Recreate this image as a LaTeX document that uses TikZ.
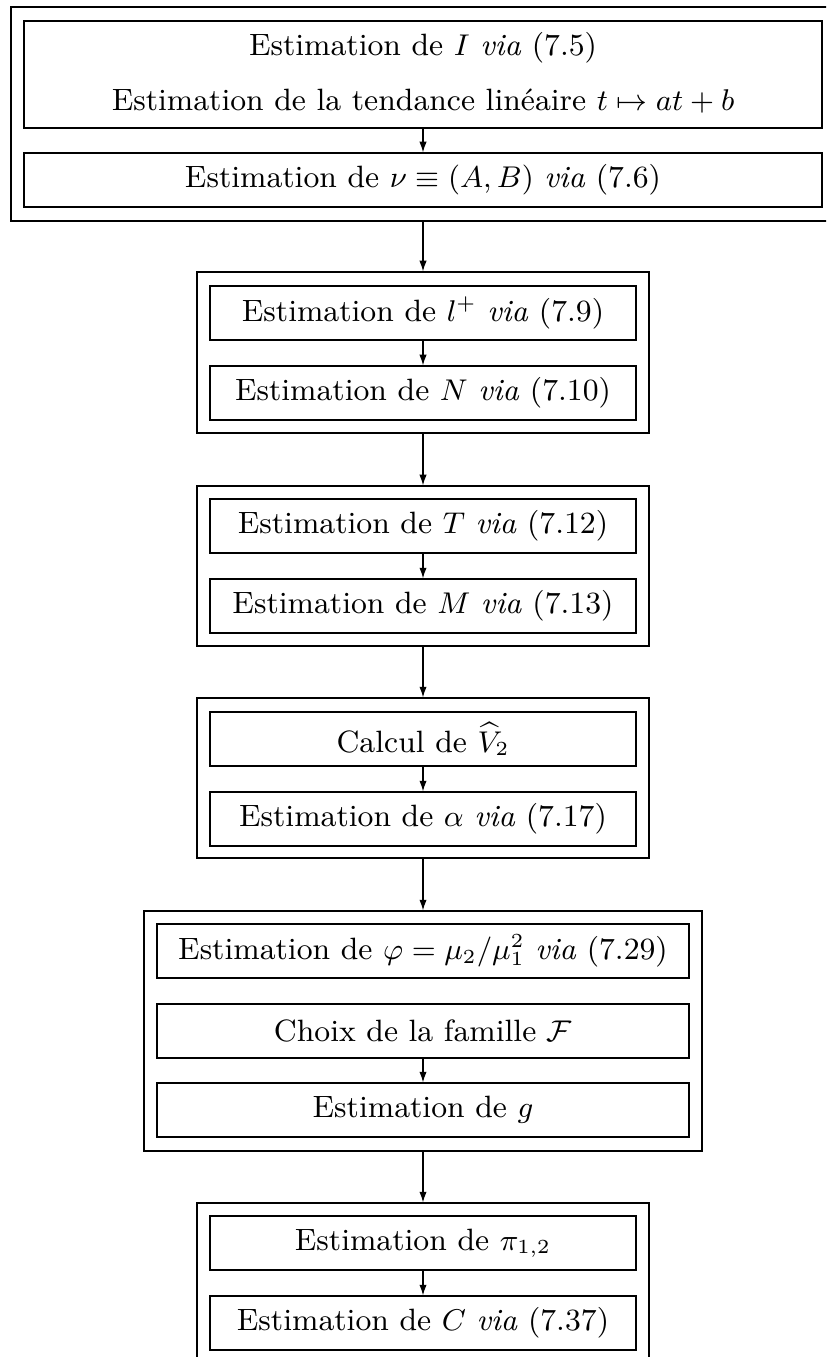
\documentclass[tikz,border=0pt]{standalone}
\usetikzlibrary{arrows.meta}
\begin{document}
\begin{tikzpicture}[x=0.3pt,y=-0.3pt,
  frame/.style={draw, line width=0.35pt, rectangle, inner sep=0pt},
  stepbox/.style={draw, line width=0.35pt, rectangle, inner sep=0pt, minimum height={54*0.3pt}, font=\fontsize{9.25}{11}\selectfont},
  txt/.style={inner sep=0pt, font=\fontsize{9.25}{11}\selectfont},
  arr/.style={-{Latex[length=3.2pt,width=2.2pt]}, line width=0.35pt}]
\path[use as bounding box, clip] (0,0) rectangle (826,1357);
% group 1
\node[frame, minimum width={824*0.3pt}, minimum height={214*0.3pt}] (o1) at (423,114) {};
\node[stepbox, minimum width={798*0.3pt}, minimum height={107*0.3pt}] (b1) at (423,74.5) {};
\node[txt] (t1a) at (423,48) {Estimation de $I$ \emph{via} (7.5)};
\node[txt] (t1b) at (423,101.5) {Estimation de la tendance linéaire $t\mapsto at+b$};
\node[stepbox, minimum width={798*0.3pt}] (bnu) at (423,180) {Estimation de $\nu\equiv(A,B)$ \emph{via} (7.6)};
% group 2
\node[frame, minimum width={452*0.3pt}, minimum height={161*0.3pt}] (o2) at (423,352.5) {};
\node[stepbox, minimum width={426*0.3pt}] (bl) at (423,313) {Estimation de $l^+$ \emph{via} (7.9)};
\node[stepbox, minimum width={426*0.3pt}] (bN) at (423,393) {Estimation de $N$ \emph{via} (7.10)};
% group 3
\node[frame, minimum width={452*0.3pt}, minimum height={160*0.3pt}] (o3) at (423,566) {};
\node[stepbox, minimum width={426*0.3pt}] (bT) at (423,526) {Estimation de $T$ \emph{via} (7.12)};
\node[stepbox, minimum width={426*0.3pt}] (bM) at (423,606) {Estimation de $M$ \emph{via} (7.13)};
% group 4
\node[frame, minimum width={452*0.3pt}, minimum height={160*0.3pt}] (o4) at (423,778) {};
\node[stepbox, minimum width={426*0.3pt}] (bV) at (423,739) {Calcul de $\widehat{V}_2$};
\node[stepbox, minimum width={426*0.3pt}] (ba) at (423,819) {Estimation de $\alpha$ \emph{via} (7.17)};
% group 5
\node[frame, minimum width={558*0.3pt}, minimum height={240*0.3pt}] (o5) at (423,1031) {};
\node[stepbox, minimum width={532*0.3pt}] (bphi) at (423,951) {Estimation de $\varphi=\mu_2/\mu_1^2$ \emph{via} (7.29)};
\node[stepbox, minimum width={532*0.3pt}] (bF) at (423,1031) {Choix de la famille $\mathcal{F}$};
\node[stepbox, minimum width={532*0.3pt}] (bg) at (423,1110) {Estimation de $g$};
% group 6
\node[frame, minimum width={452*0.3pt}, minimum height={160*0.3pt}] (o6) at (423,1283) {};
\node[stepbox, minimum width={426*0.3pt}] (bpi) at (423,1243) {Estimation de $\pi_{1,2}$};
\node[stepbox, minimum width={426*0.3pt}] (bC) at (423,1323) {Estimation de $C$ \emph{via} (7.37)};
% arrows
\draw[arr] (b1.south) -- (bnu.north);
\draw[arr] (o1.south) -- (o2.north);
\draw[arr] (bl.south) -- (bN.north);
\draw[arr] (o2.south) -- (o3.north);
\draw[arr] (bT.south) -- (bM.north);
\draw[arr] (o3.south) -- (o4.north);
\draw[arr] (bV.south) -- (ba.north);
\draw[arr] (o4.south) -- (o5.north);
\draw[arr] (bF.south) -- (bg.north);
\draw[arr] (o5.south) -- (o6.north);
\draw[arr] (bpi.south) -- (bC.north);
\end{tikzpicture}
\end{document}
